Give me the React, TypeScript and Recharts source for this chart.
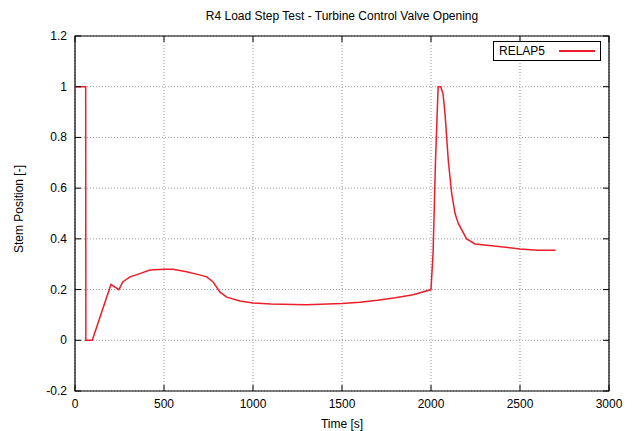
import React from 'react';
import { LineChart, Line, XAxis, YAxis, CartesianGrid, ReferenceArea, Legend, Label } from 'recharts';

const timeS = [
  0, 60, 61, 97, 202, 247, 268, 309, 360, 421, 500, 550, 627, 700, 740, 776, 815, 852, 927, 1000,
  1100, 1300, 1500, 1600, 1700, 1800, 1900, 2000, 2012, 2025, 2040, 2055, 2068, 2079, 2097, 2116,
  2135, 2154, 2200, 2247, 2380, 2500, 2600, 2700,
];
const stemPos = [
  1, 1, 0, 0, 0.22, 0.2, 0.23, 0.25, 0.262, 0.277, 0.28, 0.28, 0.27, 0.258, 0.25, 0.23, 0.19, 0.17,
  0.155, 0.147, 0.143, 0.14, 0.145, 0.15, 0.158, 0.168, 0.18, 0.2, 0.35, 0.7, 1.0, 1.0, 0.97, 0.89,
  0.71, 0.58, 0.5, 0.46, 0.4, 0.38, 0.37, 0.36, 0.355, 0.355,
];
const xTicks = [0, 500, 1000, 1500, 2000, 2500, 3000];
const yTicks = [-0.2, 0, 0.2, 0.4, 0.6, 0.8, 1, 1.2];

const data = timeS.map((t, i) => ({ t, v: stemPos[i] }));

const W = 632;
const H = 431;
const LEFT = 75;
const RIGHT = 609;
const TOP = 36;
const BOTTOM = 391;
const FONT = '"Liberation Sans", Arial, sans-serif';
const RED = '#eb1f2b';

const YTick = (props: any) => {
  const { x, y, payload } = props;
  return (
    <g>
      <line x1={LEFT} x2={LEFT + 6} y1={y} y2={y} stroke="#000" />
      <line x1={RIGHT} x2={RIGHT - 6} y1={y} y2={y} stroke="#000" />
      <text x={x} y={y} dy={4} textAnchor="end" fontSize={12} fill="#000" fontFamily={FONT}>
        {String(payload.value)}
      </text>
    </g>
  );
};

const XTick = (props: any) => {
  const { x, payload } = props;
  return (
    <g>
      <line x1={x} x2={x} y1={BOTTOM} y2={BOTTOM - 6} stroke="#000" />
      <line x1={x} x2={x} y1={TOP} y2={TOP + 6} stroke="#000" />
      <text x={x} y={408} textAnchor="middle" fontSize={12} fill="#000" fontFamily={FONT}>
        {String(payload.value)}
      </text>
    </g>
  );
};

const LegendBox = () => (
  <div
    style={{
      width: 108,
      height: 20,
      border: '1px solid #000',
      background: '#fff',
      fontFamily: FONT,
      fontSize: 12,
      display: 'flex',
      alignItems: 'center',
      boxSizing: 'border-box',
    }}
  >
    <span style={{ marginLeft: 5 }}>RELAP5</span>
    <span style={{ marginLeft: 14, width: 36, height: 2, background: RED }} />
  </div>
);

export default function App() {
  return (
    <div style={{ position: 'absolute', left: 0, top: 0, width: W, height: H, background: '#fff' }}>
      <LineChart
        width={W}
        height={H}
        data={data}
        margin={{ top: TOP, right: W - RIGHT, left: 0, bottom: 0 }}
      >
        <CartesianGrid stroke="#999" strokeDasharray="1 2" />
        <XAxis
          dataKey="t"
          type="number"
          domain={[0, 3000]}
          ticks={xTicks}
          height={H - BOTTOM}
          axisLine={false}
          tickLine={false}
          tick={<XTick />}
          interval={0}
        >
          <Label
            content={() => (
              <g>
                <text x={342} y={428} textAnchor="middle" fontSize={12} fontFamily={FONT} fill="#000">
                  Time [s]
                </text>
                <text x={342} y={20} textAnchor="middle" fontSize={12} fontFamily={FONT} fill="#000">
                  R4 Load Step Test - Turbine Control Valve Opening
                </text>
              </g>
            )}
          />
        </XAxis>
        <YAxis
          type="number"
          domain={[-0.2, 1.2]}
          ticks={yTicks}
          width={LEFT}
          axisLine={false}
          tickLine={false}
          tick={<YTick />}
          interval={0}
        >
          <Label
            content={() => (
              <text
                x={23}
                y={209}
                transform="rotate(-90 23 209)"
                textAnchor="middle"
                fontSize={12}
                fontFamily={FONT}
                fill="#000"
              >
                Stem Position [-]
              </text>
            )}
          />
        </YAxis>
        <ReferenceArea x1={0} x2={3000} y1={-0.2} y2={1.2} fill="none" stroke="#000" strokeWidth={1.2} />
        <Line
          type="linear"
          dataKey="v"
          stroke={RED}
          strokeWidth={1.5}
          dot={false}
          isAnimationActive={false}
        />
        <Legend
          verticalAlign="top"
          content={<LegendBox />}
          wrapperStyle={{ position: 'absolute', left: 493, top: 41, width: 108, height: 0, overflow: 'visible' }}
        />
      </LineChart>
    </div>
  );
}
